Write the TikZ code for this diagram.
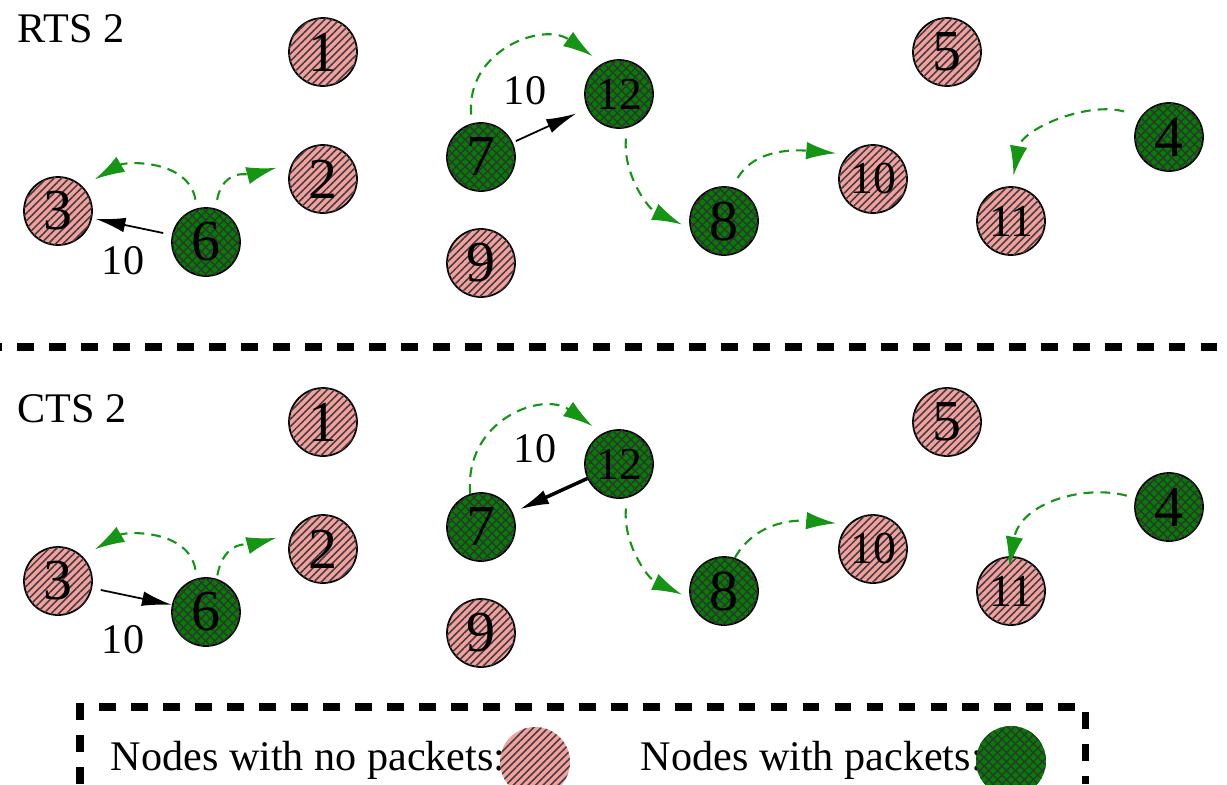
\documentclass[tikz,border=0pt]{standalone}
\usepackage{fontspec}
\setmainfont{Liberation Serif}
\newfontfamily\figfont{Liberation Serif}
\usetikzlibrary{arrows.meta, patterns.meta}

\definecolor{idlepink}{RGB}{245,160,158}
\definecolor{busygreen}{RGB}{0,128,0}
\definecolor{arcgreen}{RGB}{20,150,20}

\begin{document}
\begin{tikzpicture}[
    station/.style={circle, draw=black, line width=0.5pt, minimum size=0.68cm, inner sep=0pt,
      font=\figfont\fontsize{16.5}{16.5}\selectfont},
    idle/.style={station, fill=idlepink,
      postaction={pattern={Lines[angle=45, distance=1.5pt, line width=0.45pt]}, pattern color=black!75}},
    busy/.style={station, fill=busygreen,
      postaction={pattern={Hatch[angle=45, distance=1.8pt, line width=0.4pt]}, pattern color=black!80}},
    idlewide/.style={idle, font=\figfont\fontsize{13}{13}\selectfont},
    busywide/.style={busy, font=\figfont\fontsize{13}{13}\selectfont},
    data/.style={-{Latex[length=8.5pt, width=4.2pt]}, line width=0.5pt},
    beacon/.style={arcgreen, line width=0.6pt, dash pattern=on 2.8pt off 2pt,
      -{Latex[length=8.5pt, width=5pt]}},
    elabel/.style={font=\figfont\fontsize{12}{12}\selectfont},
    phase/.style={inner sep=0pt, font=\figfont\fontsize{12}{12}\selectfont},
    legtext/.style={inner sep=0pt, font=\figfont\fontsize{12}{12}\selectfont},
    splitline/.style={line width=2pt, dash pattern=on 4.8pt off 4.3pt}
  ]
  \useasboundingbox (0,0) rectangle (12.27,7.84);

  % Stations, once for the RTS panel (r) and once for the CTS panel (c)
  \foreach \p/\dy in {r/0, c/-3.70} {
    \foreach \n/\x/\y/\kind in {1/3.23/7.32/idle, 2/3.23/6.05/idle, 3/0.58/5.73/idle,
        4/11.69/6.47/busy, 5/9.47/7.32/idle, 6/2.06/5.42/busy, 7/4.81/6.27/busy,
        8/7.24/5.63/busy, 9/4.81/5.21/idle, 10/8.73/6.05/idlewide,
        11/10.11/5.63/idlewide, 12/6.19/6.90/busywide} {
      \node[\kind] (\p\n) at (\x,{\y+\dy}) {\n};
    }
  }

  % Top: RTS 2
  \node[phase, anchor=base west] (rtslabel) at (0.17,7.42) {RTS 2};
  \draw[data, shorten <=2.5pt, shorten >=1pt] (r6) -- (r3);
  \node[elabel] (rw63) at (1.23,5.23) {10};
  \draw[data, shorten <=1pt, shorten >=3.5pt] (r7) -- (r12);
  \node[elabel] (rw712) at (5.25,6.93) {10};

  \draw[beacon, shorten <=2.5pt, shorten >=4pt] (r6.105) to[out=100, in=30, looseness=1.1] (r3.45);
  \draw[beacon, shorten <=2.5pt, shorten >=4.5pt] (r6.74) to[out=80, in=195, looseness=1.2] (r2.154);
  \draw[beacon, shorten <=2.5pt, shorten >=3.5pt] (r7.105) to[out=95, in=145, looseness=1.3] (r12.118);
  \draw[beacon, shorten <=3pt, shorten >=2.5pt] (r12.-77) to[out=-95, in=155] (r8.192);
  \draw[beacon, shorten <=3pt, shorten >=3.5pt] (r8.76) to[out=60, in=175] (r10.135);
  \draw[beacon, shorten <=5pt, shorten >=3pt] (r4.143) to[out=165, in=80] (r11.89);

  % Separator
  \draw[splitline, dash phase=4.2pt] (0,4.37) -- (12.27,4.37);

  % Bottom: CTS 2
  \node[phase, anchor=base west] (ctslabel) at (0.17,3.62) {CTS 2};
  \draw[data, shorten <=2.5pt] (c3) -- (c6);
  \node[elabel] (cw36) at (1.23,1.44) {10};
  \draw[data, line width=1pt, shorten >=2pt] (c12) -- (c7);
  \node[elabel] (cw127) at (5.35,3.35) {10};

  \draw[beacon, shorten <=2.5pt, shorten >=4pt] (c6.105) to[out=100, in=30, looseness=1.1] (c3.45);
  \draw[beacon, shorten <=1pt, shorten >=4.5pt] (c6.72) to[out=80, in=195, looseness=1.2] (c2.154);
  \draw[beacon, shorten >=3.5pt] (c7.108) to[out=95, in=145, looseness=1.3] (c12.118);
  \draw[beacon, shorten <=3pt, shorten >=2.5pt] (c12.-77) to[out=-95, in=155] (c8.192);
  \draw[beacon, shorten >=3.5pt] (c8.72) to[out=60, in=175] (c10.135);
  \draw[beacon, shorten <=2.5pt, shorten >=-3pt] (c4.165) to[out=165, in=80] (c11.90);

  % Legend
  \draw[splitline] (0.80,0) |- (10.85,0.77) -- (10.85,0);
  \node[legtext, anchor=base west] (legidletext) at (1.10,0.14) {Nodes with no packets:};
  \node[idle, draw=none, minimum size=0.70cm] (legidle) at (5.35,0.22) {};
  \node[legtext, anchor=base west] (legbusytext) at (6.40,0.14) {Nodes with packets:};
  \node[busy, draw=none, minimum size=0.70cm] (legbusy) at (10.11,0.23) {};
\end{tikzpicture}
\end{document}
